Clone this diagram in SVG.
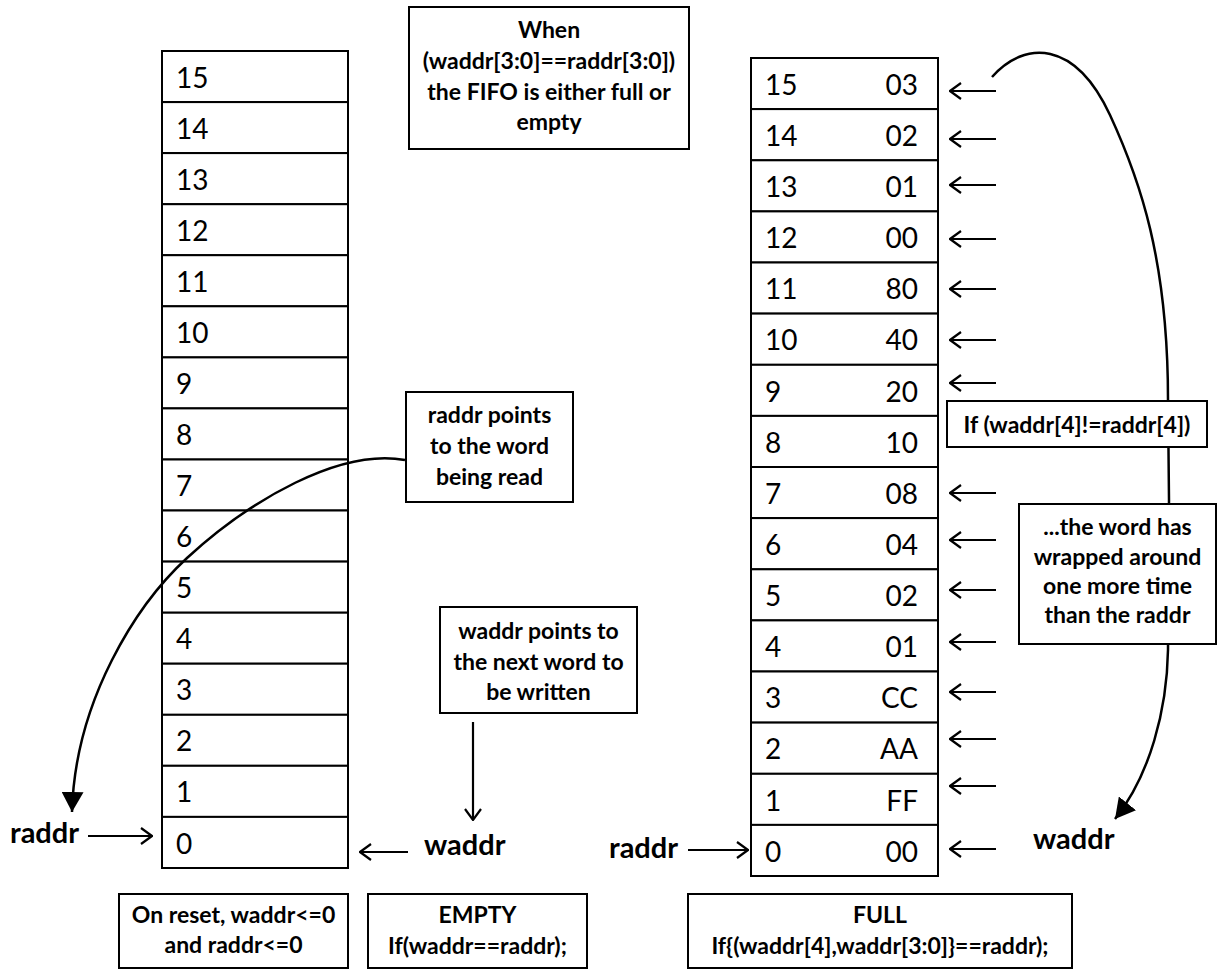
<svg xmlns="http://www.w3.org/2000/svg" width="1217" height="970" viewBox="0 0 1217 970">
  <style>
    .cell { fill: #ffffff; stroke: #000000; stroke-width: 2; }
    .box { fill: #ffffff; stroke: #000000; stroke-width: 2; }
    .num { font-family: Lato, "Liberation Sans", sans-serif; font-size: 28px; fill: #000000; }
    .val { font-family: Lato, "Liberation Sans", sans-serif; font-size: 28px; fill: #000000; text-anchor: end; }
    .lbl { font-family: Lato, "Liberation Sans", sans-serif; font-size: 23px; font-weight: bold; fill: #000000; text-anchor: middle; }
    .ptr { font-family: Lato, "Liberation Sans", sans-serif; font-size: 29px; font-weight: bold; fill: #000000; }
    .arr { stroke: #000000; stroke-width: 2.2; fill: none; marker-end: url(#open); }
    .arc { stroke: #000000; stroke-width: 2.5; fill: none; marker-end: url(#solid); }
  </style>
  <defs>
    <marker id="open" viewBox="0 0 13 18" refX="12" refY="9" markerWidth="13" markerHeight="18" markerUnits="userSpaceOnUse" orient="auto">
      <path d="M1,1 L12,9 L1,17" fill="none" stroke="#000000" stroke-width="2.2"/>
    </marker>
    <marker id="solid" viewBox="0 0 20 22" refX="20" refY="11" markerWidth="20" markerHeight="22" markerUnits="userSpaceOnUse" orient="auto">
      <path d="M0,0 L20,11 L0,22 Z" fill="#000000"/>
    </marker>
  </defs>

  <!-- EMPTY FIFO: 16-word memory, address only -->
  <g id="fifo-empty">
    <rect class="cell" x="162" y="51" width="186" height="51.1"/>
    <rect class="cell" x="162" y="102.1" width="186" height="51"/>
    <rect class="cell" x="162" y="153.1" width="186" height="51.1"/>
    <rect class="cell" x="162" y="204.2" width="186" height="51"/>
    <rect class="cell" x="162" y="255.2" width="186" height="51.1"/>
    <rect class="cell" x="162" y="306.3" width="186" height="51.1"/>
    <rect class="cell" x="162" y="357.4" width="186" height="51"/>
    <rect class="cell" x="162" y="408.4" width="186" height="51.1"/>
    <rect class="cell" x="162" y="459.5" width="186" height="51"/>
    <rect class="cell" x="162" y="510.5" width="186" height="51.1"/>
    <rect class="cell" x="162" y="561.6" width="186" height="51.1"/>
    <rect class="cell" x="162" y="612.7" width="186" height="51"/>
    <rect class="cell" x="162" y="663.7" width="186" height="51.1"/>
    <rect class="cell" x="162" y="714.8" width="186" height="51"/>
    <rect class="cell" x="162" y="765.8" width="186" height="51.1"/>
    <rect class="cell" x="162" y="816.9" width="186" height="51.1"/>
    <text class="num" x="176" y="88">15</text>
    <text class="num" x="176" y="139">14</text>
    <text class="num" x="176" y="190">13</text>
    <text class="num" x="176" y="241">12</text>
    <text class="num" x="176" y="292">11</text>
    <text class="num" x="176" y="343">10</text>
    <text class="num" x="176" y="394">9</text>
    <text class="num" x="176" y="445">8</text>
    <text class="num" x="176" y="496">7</text>
    <text class="num" x="176" y="547">6</text>
    <text class="num" x="176" y="598">5</text>
    <text class="num" x="176" y="649">4</text>
    <text class="num" x="176" y="700">3</text>
    <text class="num" x="176" y="751">2</text>
    <text class="num" x="176" y="802">1</text>
    <text class="num" x="176" y="854">0</text>
  </g>

  <!-- FULL FIFO: 16-word memory with stored data -->
  <g id="fifo-full">
    <rect class="cell" x="751" y="58" width="187" height="51.1"/>
    <rect class="cell" x="751" y="109.1" width="187" height="51.2"/>
    <rect class="cell" x="751" y="160.3" width="187" height="51.1"/>
    <rect class="cell" x="751" y="211.4" width="187" height="51.1"/>
    <rect class="cell" x="751" y="262.5" width="187" height="51.1"/>
    <rect class="cell" x="751" y="313.6" width="187" height="51.2"/>
    <rect class="cell" x="751" y="364.8" width="187" height="51.1"/>
    <rect class="cell" x="751" y="415.9" width="187" height="51.1"/>
    <rect class="cell" x="751" y="467" width="187" height="51.1"/>
    <rect class="cell" x="751" y="518.1" width="187" height="51.2"/>
    <rect class="cell" x="751" y="569.3" width="187" height="51.1"/>
    <rect class="cell" x="751" y="620.4" width="187" height="51.1"/>
    <rect class="cell" x="751" y="671.5" width="187" height="51.1"/>
    <rect class="cell" x="751" y="722.6" width="187" height="51.2"/>
    <rect class="cell" x="751" y="773.8" width="187" height="51.1"/>
    <rect class="cell" x="751" y="824.9" width="187" height="51.1"/>
    <text class="num" x="765" y="95">15</text>
    <text class="num" x="765" y="146">14</text>
    <text class="num" x="765" y="197">13</text>
    <text class="num" x="765" y="248">12</text>
    <text class="num" x="765" y="299">11</text>
    <text class="num" x="765" y="350">10</text>
    <text class="num" x="765" y="402">9</text>
    <text class="num" x="765" y="453">8</text>
    <text class="num" x="765" y="504">7</text>
    <text class="num" x="765" y="555">6</text>
    <text class="num" x="765" y="606">5</text>
    <text class="num" x="765" y="657">4</text>
    <text class="num" x="765" y="708">3</text>
    <text class="num" x="765" y="759">2</text>
    <text class="num" x="765" y="811">1</text>
    <text class="num" x="765" y="862">0</text>
    <text class="val" x="918" y="95">03</text>
    <text class="val" x="918" y="146">02</text>
    <text class="val" x="918" y="197">01</text>
    <text class="val" x="918" y="248">00</text>
    <text class="val" x="918" y="299">80</text>
    <text class="val" x="918" y="350">40</text>
    <text class="val" x="918" y="402">20</text>
    <text class="val" x="918" y="453">10</text>
    <text class="val" x="918" y="504">08</text>
    <text class="val" x="918" y="555">04</text>
    <text class="val" x="918" y="606">02</text>
    <text class="val" x="918" y="657">01</text>
    <text class="val" x="918" y="708">CC</text>
    <text class="val" x="918" y="759">AA</text>
    <text class="val" x="918" y="811">FF</text>
    <text class="val" x="918" y="862">00</text>
  </g>

  <!-- pointer labels -->
  <g id="raddr-empty"><text class="ptr" x="10" y="843">raddr</text></g>
  <g id="waddr-empty"><text class="ptr" x="424" y="855">waddr</text></g>
  <g id="raddr-full"><text class="ptr" x="609" y="858">raddr</text></g>
  <g id="waddr-full"><text class="ptr" x="1033" y="849">waddr</text></g>

  <g id="connectors">
    <!-- empty FIFO pointers -->
    <line class="arr" x1="88" y1="836" x2="152" y2="836"/>
    <line class="arr" x1="408" y1="852" x2="360" y2="852"/>
    <line class="arr" x1="473" y1="722" x2="473" y2="820"/>
    <path class="arc" d="M405,460 C340,448 250,500 187,558 C137,604 75,700 72,812"/>
    <!-- full FIFO pointers -->
    <line class="arr" x1="688" y1="850" x2="748" y2="850"/>
    <line class="arr" x1="996" y1="91" x2="950" y2="91"/>
    <line class="arr" x1="996" y1="139" x2="950" y2="139"/>
    <line class="arr" x1="996" y1="185" x2="950" y2="185"/>
    <line class="arr" x1="996" y1="239" x2="950" y2="239"/>
    <line class="arr" x1="996" y1="289" x2="950" y2="289"/>
    <line class="arr" x1="996" y1="340" x2="950" y2="340"/>
    <line class="arr" x1="996" y1="383" x2="950" y2="383"/>
    <line class="arr" x1="996" y1="493" x2="950" y2="493"/>
    <line class="arr" x1="996" y1="540" x2="950" y2="540"/>
    <line class="arr" x1="996" y1="590" x2="950" y2="590"/>
    <line class="arr" x1="996" y1="642" x2="950" y2="642"/>
    <line class="arr" x1="996" y1="692" x2="950" y2="692"/>
    <line class="arr" x1="996" y1="739" x2="950" y2="739"/>
    <line class="arr" x1="996" y1="786" x2="950" y2="786"/>
    <line class="arr" x1="996" y1="849" x2="950" y2="849"/>
    <path class="arc" d="M992,77 C1025,40 1075,40 1110,115 C1140,180 1168,260 1168,400 L1169,500 L1168,650 C1167,710 1150,775 1115,819"/>
  </g>

  <!-- annotation boxes -->
  <g id="note-when">
    <rect class="box" x="409" y="7" width="280" height="142"/>
    <text class="lbl" x="549" y="38">When</text>
    <text class="lbl" x="549" y="69">(waddr[3:0]==raddr[3:0])</text>
    <text class="lbl" x="549" y="100">the FIFO is either full or</text>
    <text class="lbl" x="549" y="130">empty</text>
  </g>
  <g id="note-raddr">
    <rect class="box" x="406" y="392" width="167" height="110"/>
    <text class="lbl" x="489.5" y="423">raddr points</text>
    <text class="lbl" x="489.5" y="454">to the word</text>
    <text class="lbl" x="489.5" y="485">being read</text>
  </g>
  <g id="note-waddr">
    <rect class="box" x="440" y="607" width="197" height="106"/>
    <text class="lbl" x="538.5" y="639">waddr points to</text>
    <text class="lbl" x="538.5" y="670">the next word to</text>
    <text class="lbl" x="538.5" y="700">be written</text>
  </g>
  <g id="note-msb">
    <rect class="box" x="947" y="401" width="260" height="46"/>
    <text class="lbl" x="1077" y="433">If (waddr[4]!=raddr[4])</text>
  </g>
  <g id="note-wrap">
    <rect class="box" x="1019" y="504" width="197" height="140"/>
    <text class="lbl" x="1117.5" y="535">...the word has</text>
    <text class="lbl" x="1117.5" y="565">wrapped around</text>
    <text class="lbl" x="1117.5" y="594">one more time</text>
    <text class="lbl" x="1117.5" y="623">than the raddr</text>
  </g>
  <g id="note-reset">
    <rect class="box" x="119" y="894" width="229" height="74"/>
    <text class="lbl" x="233.5" y="923">On reset, waddr&lt;=0</text>
    <text class="lbl" x="233.5" y="953">and raddr&lt;=0</text>
  </g>
  <g id="note-empty">
    <rect class="box" x="368" y="894" width="219" height="74"/>
    <text class="lbl" x="477.5" y="923">EMPTY</text>
    <text class="lbl" x="477.5" y="954">If(waddr==raddr);</text>
  </g>
  <g id="note-full">
    <rect class="box" x="688" y="894" width="384" height="74"/>
    <text class="lbl" x="880" y="923">FULL</text>
    <text class="lbl" x="880" y="954">If{(waddr[4],waddr[3:0]}==raddr);</text>
  </g>
</svg>
